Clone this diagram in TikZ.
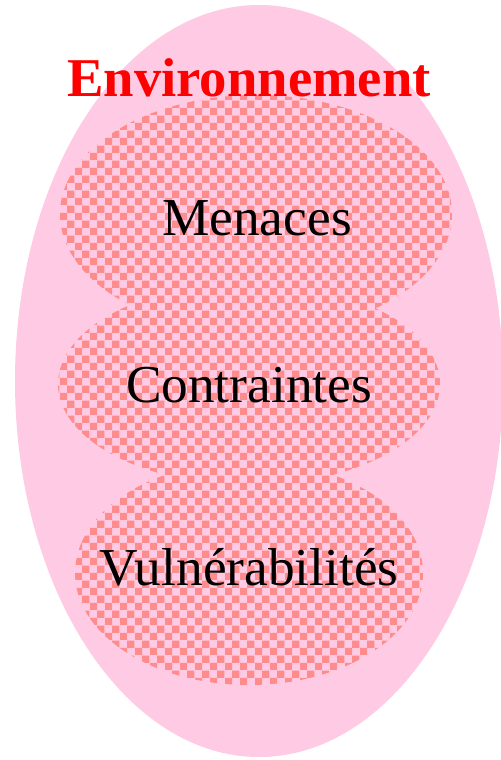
\documentclass[tikz,border=0pt]{standalone}
\usepackage{fontspec}
\setmainfont{Liberation Serif}
\usetikzlibrary{patterns}
\definecolor{envpink}{RGB}{255,202,228}
\definecolor{dotred}{RGB}{255,140,140}
\tikzset{
  blob/.style={fill=white, pattern=checkerboard, pattern color=dotred},
  biglabel/.style={inner sep=0.75pt, font=\fontsize{40}{46}\selectfont}
}
\begin{document}
\begin{tikzpicture}[x=0.75pt,y=0.75pt,yscale=-1,xscale=1]
\useasboundingbox (0,0) rectangle (500,760); %set diagram to 500 by 760

%Shape: Ellipse [id:environment]
\fill [envpink] (259,381) ellipse (244 and 376);
%Shape: Union of ellipses [id:inner]
\path [blob] (256,214) ellipse (196 and 119) (249,384) ellipse (191 and 101) (249,573) ellipse (174 and 112);

% Text Node
\draw (249,78) node [biglabel, text=red, font=\fontsize{41}{46}\selectfont\bfseries] (env) {Environnement};
% Text Node
\draw (257,218) node [biglabel] (menaces) {Menaces};
% Text Node
\draw (249,385) node [biglabel] (contraintes) {Contraintes};
% Text Node
\draw (249,567) node [biglabel] (vuln) {Vulnérabilités};

\end{tikzpicture}
\end{document}
